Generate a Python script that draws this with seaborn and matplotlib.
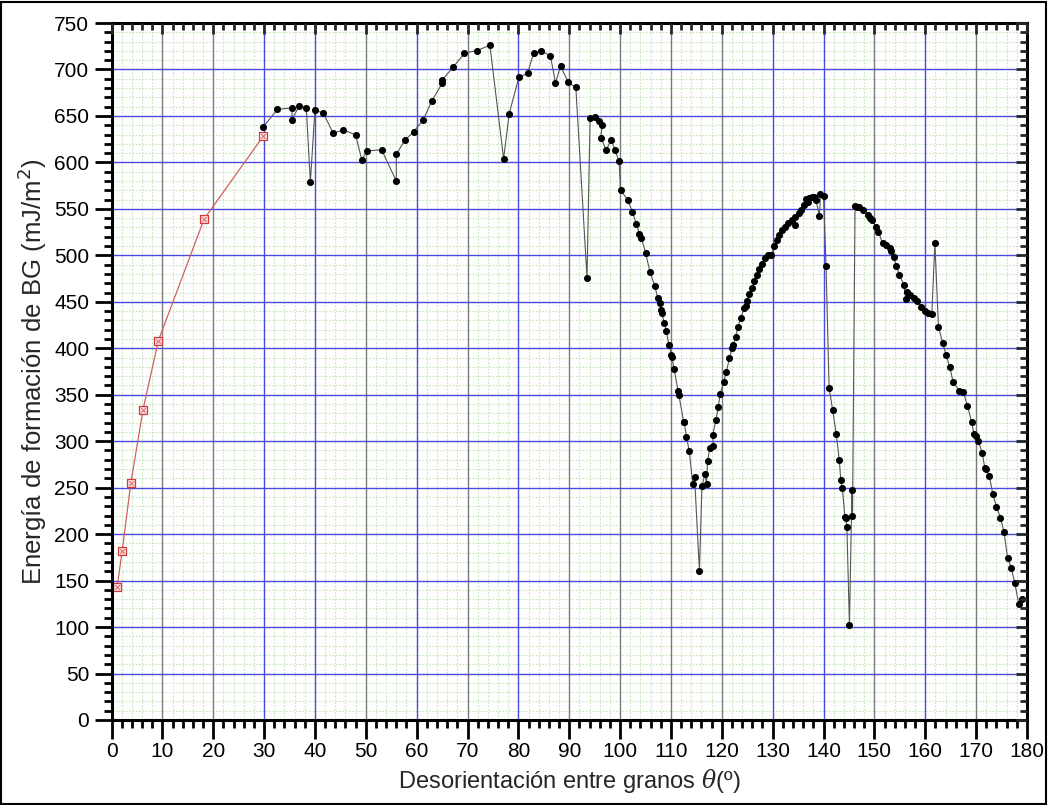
import matplotlib
matplotlib.use("Agg")
import matplotlib.pyplot as plt
import seaborn as sns
import numpy as np
import pandas as pd
from matplotlib.ticker import MultipleLocator
from matplotlib.patches import Rectangle

# ---- data ----
red_x = [1.1, 2.1, 3.8, 6.2, 9.2, 18.2, 29.8]
red_y = [143, 182, 255, 334, 408, 539, 628]

black_x = [29.8, 32.6, 35.5, 35.5, 36.9, 38.3, 39.1, 40.0, 41.6, 43.6, 45.6, 48.0, 49.2, 50.3, 53.1,
           56.0, 56.0, 57.7, 59.4, 61.3, 63.0, 65.0, 65.0, 67.2, 69.4, 71.9, 74.4, 77.1, 78.2, 80.1,
           81.8, 83.0, 84.4, 86.3, 87.3, 88.3, 89.8, 91.3, 93.5, 94.1, 95.0, 95.8, 96.5, 96.2, 97.3,
           98.2, 99.0, 99.8, 100.1, 101.5, 102.4, 103.2, 103.8, 104.2, 105.0, 105.9, 106.8, 107.4,
           107.8, 108.0, 108.2, 108.7, 109.1, 109.6, 110.1, 110.15, 110.6, 111.4, 111.55, 112.5,
           112.6, 113.05, 113.6, 114.3, 114.65, 115.6, 116.1, 116.7, 117.0, 117.2, 117.65, 118.35,
           118.2, 118.85, 119.3, 119.7, 120.4, 120.9, 121.5, 122.0, 122.2, 122.7, 123.2, 123.7,
           124.4, 124.7, 124.9, 125.4, 125.9, 126.4, 126.9, 127.4, 127.9, 128.5, 129.1, 129.7,
           130.3, 130.8, 131.3, 131.9, 132.5, 133.1, 133.8, 134.4, 134.4, 135.1, 135.6, 136.1,
           136.6, 136.9, 137.2, 137.8, 138.1, 138.5, 139.2, 139.4, 140.0, 140.5, 141.1, 141.8,
           142.5, 143.1, 143.4, 143.7, 144.2, 144.4, 144.6, 145.1, 145.6, 145.7, 146.2, 146.6,
           147.0, 147.7, 148.8, 149.2, 149.5, 150.3, 150.8, 151.6, 152.3, 153.1, 153.3, 153.8,
           154.3, 154.9, 155.8, 156.2, 156.4, 157.1, 157.7, 158.4, 159.2, 160.0, 160.6, 161.3,
           161.9, 162.6, 163.4, 164.1, 164.8, 165.5, 166.7, 167.5, 168.3, 169.1, 169.6, 170.0,
           170.4, 171.2, 171.7, 171.9, 172.6, 173.3, 174.0, 174.8, 175.5, 176.2, 176.9, 177.6,
           178.4, 179.0]
black_y = [638, 657, 658.8, 646, 661, 659, 579, 656, 653.4, 631.5, 635, 629.7, 603, 612.5, 613.6,
           580, 608.7, 624, 633, 645.8, 666.3, 685, 688.6, 702.6, 717.6, 720.4, 726.2, 604, 652.6, 691.4,
           695.8, 717.6, 720.4, 714.7, 685.7, 703.6, 686.2, 680.8, 475.8, 648.3, 648.7, 644.7, 640.5, 626.8, 613.2,
           624.6, 613.6, 601, 569.8, 560, 547, 533.9, 523, 518.8, 503, 481.8, 467.5, 454.3,
           448.7, 441.2, 437.5, 427.5, 418.7, 403.2, 393.3, 391, 378.2, 354.5, 350, 321,
           320.5, 305, 289.4, 253.6, 261.1, 160.7, 251.5, 264.9, 254, 278.8, 292.8, 294.6,
           306.9, 322.5, 336.7, 351.3, 363.8, 375, 389, 400, 403, 411.7, 423.4, 432.4,
           443, 445.6, 451, 458, 465, 472, 479, 485, 491, 497, 500, 500,
           510, 516, 522, 527.4, 530, 534.4, 538.5, 532.4, 541.8, 545.4, 548.3, 554.4,
           560.5, 557, 561.6, 563, 562.3, 559.7, 542.5, 565.8, 564, 488, 357, 333.4,
           307.9, 280, 258.3, 249.8, 218.3, 217, 207.4, 101.9, 247.6, 219.6, 553.3, 552.5,
           551.8, 549, 542.9, 540.7, 538, 531, 525.6, 513, 511.3, 508.4, 504.8, 498,
           489, 479, 468.2, 452.8, 460.3, 457.4, 454.6, 451, 444.9, 440.2, 437.8, 437,
           513, 423.4, 406.2, 393, 380.3, 363.4, 354.5, 352.6, 338.2, 321, 307.9, 305.7,
           300.7, 287.8, 271.6, 270.2, 262.6, 243, 229.6, 217.8, 202, 174.4, 164, 147.8,
           124.5, 129.8]

x_ticks = list(range(0, 181, 10))
y_ticks = list(range(0, 751, 50))
vgrid_blue = [30, 40, 60, 80, 130, 140, 160]

red_df = pd.DataFrame({"x": red_x, "y": red_y})
black_df = pd.DataFrame({"x": black_x, "y": black_y})

sns.set_style("white")
plt.rcParams["font.family"] = ["Liberation Sans", "DejaVu Sans"]
plt.rcParams["mathtext.fontset"] = "custom"
plt.rcParams["mathtext.it"] = "DejaVu Serif:italic"

fig = plt.figure(figsize=(10.48, 8.05), dpi=100)
ax = fig.add_axes([0.1064, 0.1056, 0.8735, 0.8658])
ax.set_axisbelow(True)

ax.set_xlim(0, 180)
ax.set_ylim(0, 750)

# grids
ax.xaxis.set_minor_locator(MultipleLocator(2))
ax.yaxis.set_minor_locator(MultipleLocator(10))
ax.set_xticks(x_ticks)
ax.set_yticks(y_ticks)
ax.grid(which="minor", color="#c4e6ba", lw=0.8, ls=(0, (1.5, 1.5)))
ax.grid(which="major", visible=False)
for v in x_ticks[1:-1]:
    ax.axvline(v, color="#4a4ae0" if v in vgrid_blue else "#7a7a7a", lw=1.0, zorder=1)
for h in y_ticks[1:-1]:
    ax.axhline(h, color="#4a4ae0", lw=1.0, zorder=1)

# red series
sns.lineplot(data=red_df, x="x", y="y", sort=False, estimator=None, ax=ax,
             color="#d06060", lw=0.9, zorder=3)
sns.scatterplot(data=red_df, x="x", y="y", ax=ax, marker="s", s=38,
                facecolor="#fbe4e4", edgecolor="#d03a3a", linewidth=0.9, zorder=4)
sns.scatterplot(data=red_df, x="x", y="y", ax=ax, marker="x", s=12,
                color="#e07070", linewidth=0.8, zorder=5)

# black series
sns.lineplot(data=black_df, x="x", y="y", sort=False, estimator=None, ax=ax,
             color="#555555", lw=0.8, zorder=3)
sns.scatterplot(data=black_df, x="x", y="y", ax=ax, marker="o", s=26,
                color="black", edgecolor="black", linewidth=0, zorder=4)

# axes styling
for side in ["left", "bottom", "top", "right"]:
    ax.spines[side].set_visible(True)
    ax.spines[side].set_linewidth(2.2)
    ax.spines[side].set_color("black")
    ax.spines[side].set_zorder(6)
ax.tick_params(axis="both", which="major", direction="out", length=12, width=2,
               labelsize=15, colors="black", pad=4)
ax.tick_params(axis="both", which="minor", direction="out", length=6, width=2, colors="black")
ax.tick_params(axis="x", which="major", length=14, pad=2)
ax.tick_params(axis="x", which="both", top=False)
ax.tick_params(axis="y", which="both", right=False)

tx = ax.twiny()
tx.set_xlim(ax.get_xlim())
tx.xaxis.set_major_locator(MultipleLocator(10))
tx.xaxis.set_minor_locator(MultipleLocator(2))
tx.tick_params(axis="x", which="major", direction="in", length=8, width=2, labeltop=False)
tx.tick_params(axis="x", which="minor", direction="in", length=5, width=2)
tx.set_xticklabels([])
tx.grid(False)
ty = ax.twinx()
ty.set_ylim(ax.get_ylim())
ty.yaxis.set_major_locator(MultipleLocator(50))
ty.yaxis.set_minor_locator(MultipleLocator(10))
ty.tick_params(axis="y", which="major", direction="in", length=8, width=2, labelright=False)
ty.tick_params(axis="y", which="minor", direction="in", length=5, width=2)
ty.set_yticklabels([])
ty.grid(False)
for a in (tx, ty):
    for s in a.spines.values():
        s.set_visible(False)

ax.set_xlabel("Desorientación entre granos $\\mathit{\\theta}$(º)", fontsize=17, labelpad=4)
ax.set_ylabel("Energía de formación de BG (mJ/m$^2$)", fontsize=18.5, labelpad=4)

fig.patches.append(Rectangle((0.001, 0.001), 0.997, 0.997, transform=fig.transFigure,
                             fill=False, edgecolor="black", lw=1.5, zorder=10))

fig.savefig("out.png", dpi=100)
